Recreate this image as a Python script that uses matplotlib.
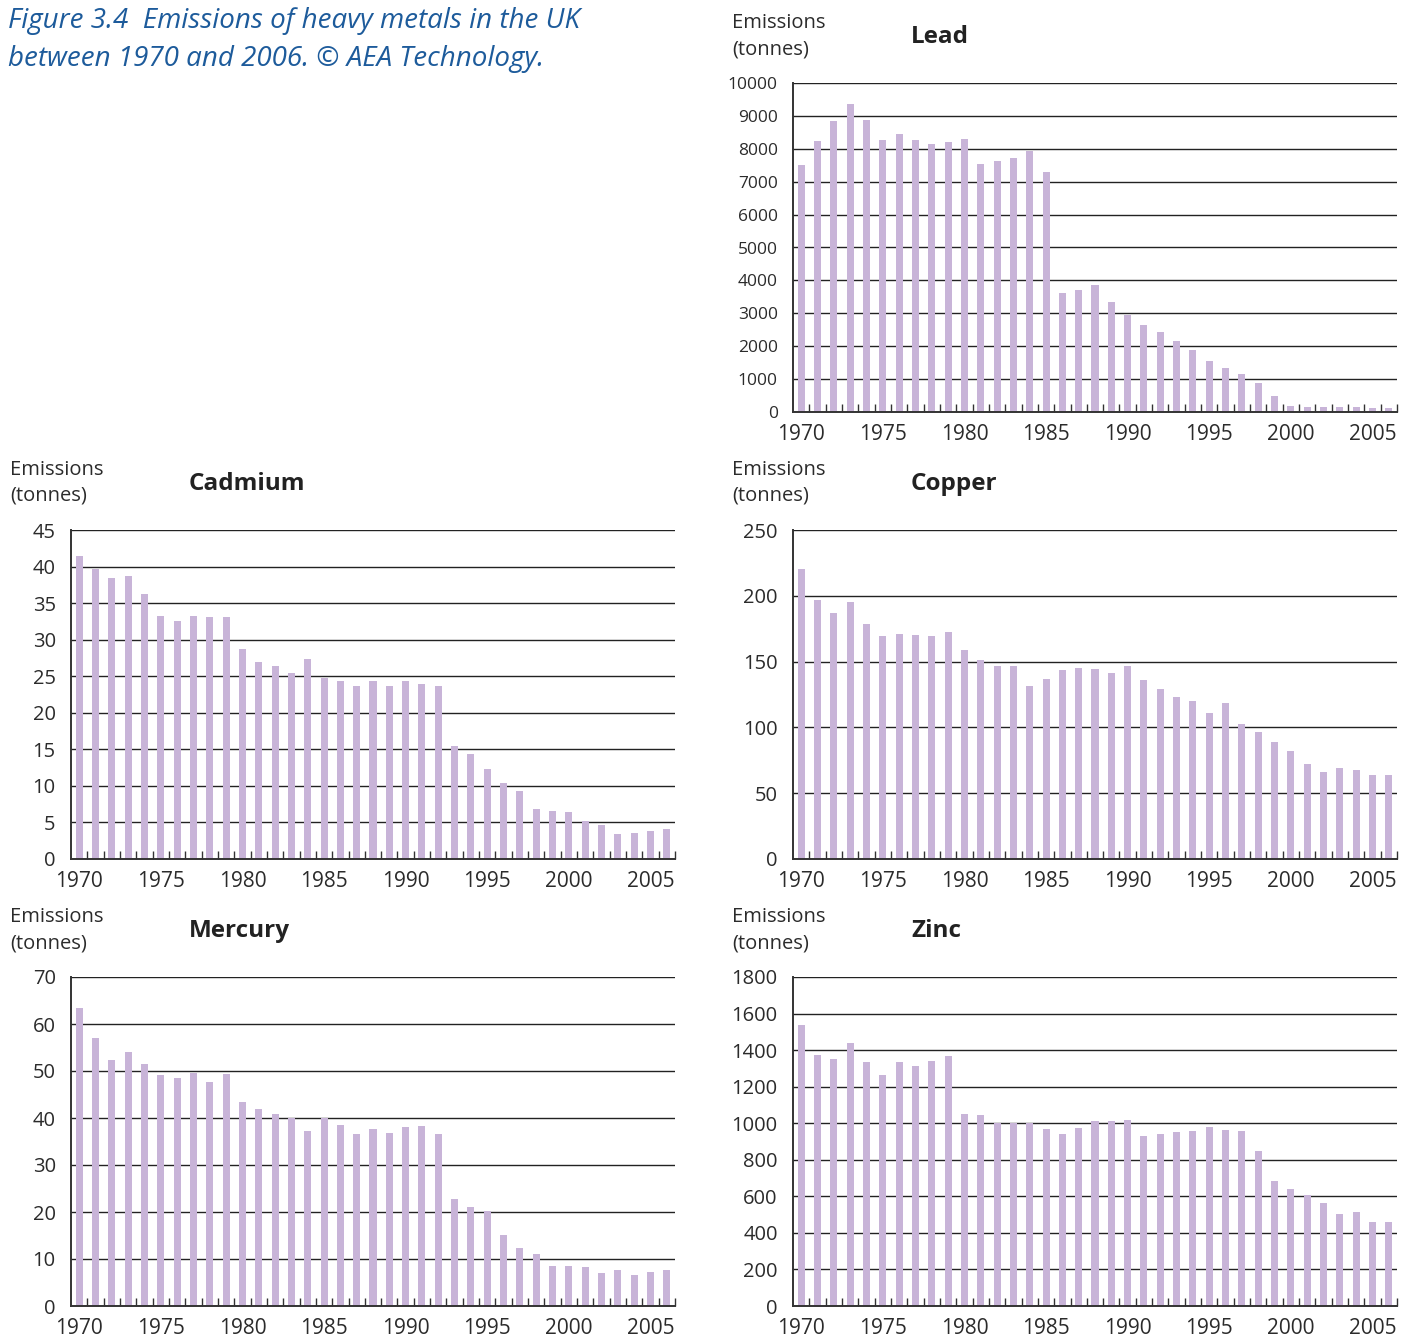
import matplotlib
matplotlib.use('Agg')
import matplotlib.pyplot as plt
import numpy as np

plt.rcParams['font.family'] = ['Open Sans', 'DejaVu Sans']

#
# UK emissions of heavy metals, tonnes per year
#
years = list(range(1970, 2007))

lead = [7510, 8240, 8850, 9370, 8880, 8270, 8460, 8270, 8150, 8210,
        8300, 7540, 7630, 7730, 7940, 7300, 3610, 3710, 3860, 3340,
        2960, 2640, 2430, 2150, 1880, 1540, 1330, 1150, 870, 480,
        170, 140, 140, 140, 140, 110, 110]

cadmium = [41.5, 39.6, 38.5, 38.7, 36.3, 33.3, 32.5, 33.3, 33.1, 33.1,
           28.7, 26.9, 26.4, 25.4, 27.3, 24.7, 24.4, 23.6, 24.3, 23.6,
           24.3, 24.0, 23.6, 15.5, 14.3, 12.3, 10.4, 9.3, 6.9, 6.5,
           6.4, 5.2, 4.7, 3.4, 3.6, 3.8, 4.1]

copper = [220.1, 196.6, 186.7, 195.0, 178.3, 169.2, 170.7, 170.0, 169.2, 172.2,
          158.6, 151.0, 146.4, 146.4, 131.2, 136.5, 143.4, 144.9, 144.1, 141.1,
          146.4, 135.8, 128.9, 122.8, 119.8, 110.7, 118.3, 102.3, 96.3, 88.7,
          81.8, 71.9, 65.9, 68.9, 67.4, 63.6, 63.6]

mercury = [63.5, 57.1, 52.4, 54.1, 51.5, 49.2, 48.5, 49.6, 47.7, 49.4,
           43.4, 41.9, 40.9, 40.0, 37.2, 40.0, 38.5, 36.6, 37.7, 36.8,
           38.1, 38.3, 36.6, 22.7, 21.0, 20.2, 15.1, 12.3, 11.0, 8.5,
           8.5, 8.2, 7.0, 7.6, 6.5, 7.2, 7.6]

zinc = [1539, 1374, 1352, 1440, 1336, 1265, 1336, 1314, 1341, 1369,
        1051, 1045, 1001, 1001, 1001, 969, 941, 974, 1012, 1012,
        1018, 930, 941, 952, 958, 980, 963, 958, 848, 683,
        640, 607, 563, 503, 514, 459, 459]

# y-axis tick values for each metal
lead_ticks = list(range(0, 10001, 1000))
cadmium_ticks = list(range(0, 46, 5))
copper_ticks = list(range(0, 251, 50))
mercury_ticks = list(range(0, 71, 10))
zinc_ticks = list(range(0, 1801, 200))

W, H = 1413, 1338
bar_color = '#c8b4d8'
text_color = '#2b2b2b'
title_blue = '#1d5b9b'

fig = plt.figure(figsize=(W/100., H/100.), dpi=100)


def panel(left, top, name, values, yticks, ylabsize=14.5):
    # axes box given in pixels: left spine x, top gridline y
    width, height = 604, 329
    ax = fig.add_axes([left/W, 1 - (top + height)/H, width/W, height/H])
    x = np.arange(len(years))
    ax.bar(x, values, width=0.43, color=bar_color, zorder=2)
    ax.set_xlim(-0.5, len(years) - 0.5)
    ax.set_ylim(yticks[0], yticks[-1])

    ax.set_yticks(yticks)
    ax.set_yticklabels([str(t) for t in yticks], fontsize=ylabsize, color=text_color)
    ax.set_xticks(x[::5])
    ax.set_xticklabels([str(years[i]) for i in x[::5]], fontsize=15, color=text_color)
    ax.set_xticks(np.arange(0.5, len(years), 1), minor=True)

    ax.tick_params(axis='y', length=0, pad=11)
    ax.tick_params(axis='x', which='major', length=0, pad=8.5)
    ax.tick_params(axis='x', which='minor', direction='in', length=6, width=1.0, color='#333333')

    ax.yaxis.grid(True, color='#222222', linewidth=1.0)
    ax.set_axisbelow(True)
    for s in ['top', 'right']:
        ax.spines[s].set_visible(False)
    for s in ['left', 'bottom']:
        ax.spines[s].set_color('#333333')
        ax.spines[s].set_linewidth(1.4)

    # unit label and metal name above the axes
    fig.text((left - 61)/W, 1 - (top - 60)/H, 'Emissions', fontsize=14.5,
             color=text_color, va='center', ha='left')
    fig.text((left - 61)/W, 1 - (top - 34)/H, '(tonnes)', fontsize=14.5,
             color=text_color, va='center', ha='left')
    fig.text((left + 118)/W, 1 - (top - 46)/H, name, fontsize=17.5,
             fontweight='bold', color='#222222', va='center', ha='left')
    return ax


panel(793, 83, 'Lead', lead, lead_ticks, ylabsize=12.5)
panel(71, 530, 'Cadmium', cadmium, cadmium_ticks)
panel(793, 530, 'Copper', copper, copper_ticks)
panel(71, 977, 'Mercury', mercury, mercury_ticks)
panel(793, 977, 'Zinc', zinc, zinc_ticks)

fig.text(8/W, 1 - 21/H, 'Figure 3.4  Emissions of heavy metals in the UK',
         fontsize=20, style='italic', color=title_blue, va='center', ha='left')
fig.text(8/W, 1 - 59/H, 'between 1970 and 2006. \u00a9 AEA Technology.',
         fontsize=20, style='italic', color=title_blue, va='center', ha='left')

fig.savefig('out.png', dpi=100)
